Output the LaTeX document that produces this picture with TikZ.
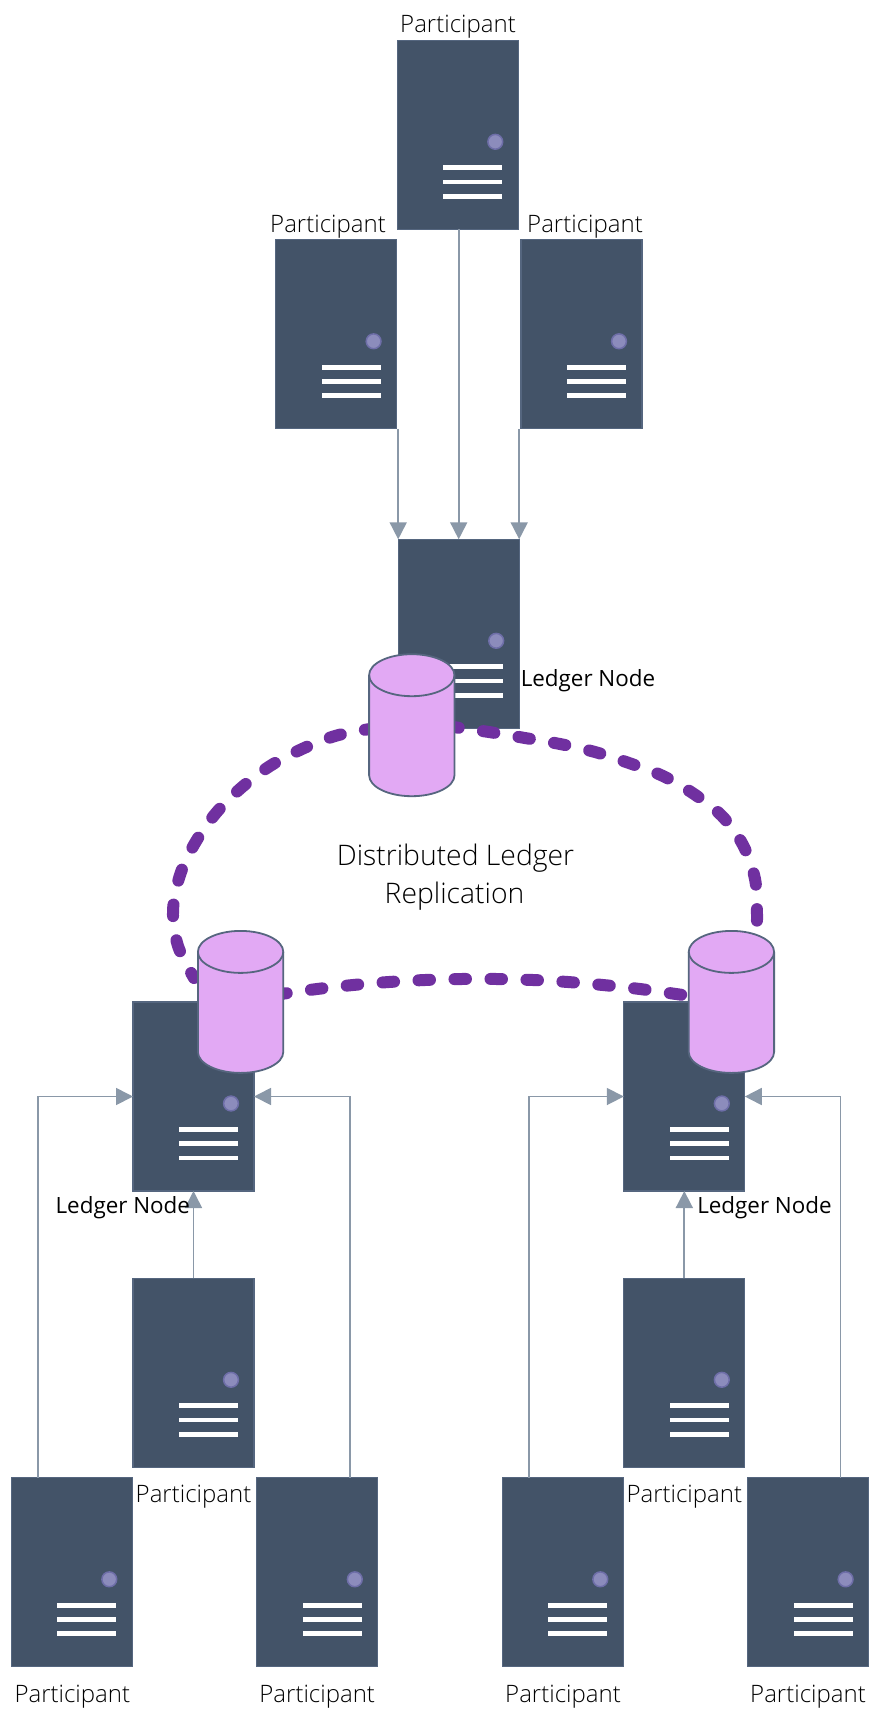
\documentclass[tikz,border=0pt]{standalone}
\usepackage{fontspec}
\setmainfont{Open Sans Light}
\newfontfamily\regfont{Open Sans}
\usetikzlibrary{arrows.meta}
\definecolor{srvfill}{HTML}{435368}
\definecolor{srvline}{HTML}{55667F}
\definecolor{dotfill}{HTML}{8C8CBC}
\definecolor{dotline}{HTML}{6E6EA8}
\definecolor{arrowc}{HTML}{8A98A8}
\definecolor{cylfill}{HTML}{E2A9F4}
\definecolor{cylline}{HTML}{56667F}
\definecolor{purp}{HTML}{7030A0}
\tikzset{
  server/.style={rectangle,draw=srvline,fill=srvfill,line width=1.2pt,minimum width=121pt,minimum height=189pt,inner sep=0pt,outer sep=0pt,anchor=north west},
  flow/.style={draw=arrowc,line width=1.7pt,-{Triangle[length=17pt,width=17pt]}},
  repl/.style={draw=purp,line width=12pt,line cap=round,dash pattern=on 11.5pt off 24.5pt,dash phase=5.75pt},
  ledger/.style={draw=cylline,fill=cylfill,line width=1.8pt},
  lbl/.style={anchor=base,font=\fontsize{24}{24}\selectfont,text=black,inner sep=0pt},
  ldg/.style={anchor=base,font=\regfont\fontsize{22.4}{24}\selectfont,text=black,inner sep=0pt},
  big/.style={anchor=base,font=\fontsize{28.3}{30}\selectfont,text=black,inner sep=0pt}
}
\newcommand{\srv}[3]{%
  \node[server] (#1) at (#2,#3) {};
  \fill[dotfill,draw=dotline,line width=1.5pt] ([shift={(98,101.5)}]#1.north west) circle (7.4pt);
  \foreach \yy in {125,139.3,153.6}{\fill[white] ([shift={(46,\yy)}]#1.north west) rectangle +(59,4.7);}
}
\newcommand{\cyl}[3]{%
  \coordinate (#1) at (#2,#3);
  \draw[ledger] ([shift={(0,-50)}]#1) ++(-42.7,0) arc[start angle=180,end angle=0,x radius=42.7pt,y radius=21pt]
     -- ++(0,100) arc[start angle=0,end angle=-180,x radius=42.7pt,y radius=21pt] -- cycle;
  \draw[ledger,fill=none] ([shift={(0,-50)}]#1) ++(-42.7,0) arc[start angle=180,end angle=360,x radius=42.7pt,y radius=21pt];
}
\begin{document}
\begin{tikzpicture}[x=1pt,y=-1pt]
\useasboundingbox[fill=white] (0,0) rectangle (880,1723);
% servers
\srv{pt}{397.3}{40.3}
\srv{pl}{275.6}{239.8}
\srv{pr}{521}{239.8}
\srv{lt}{398.2}{539.3}
\srv{ll}{133}{1002}
\srv{lr}{623.8}{1002}
\srv{ma}{133}{1278.3}
\srv{mb}{623.8}{1278.3}
\srv{ba}{11.3}{1477.8}
\srv{bb}{256.8}{1477.8}
\srv{bc}{502.3}{1477.8}
\srv{bd}{747.6}{1477.8}
% connectors
\draw[flow] (lt.north |- pt.south) -- (lt.north);
\draw[flow] (lt.north west |- pl.south east) -- (lt.north west);
\draw[flow] (lt.north east |- pr.south west) -- (lt.north east);
\draw[flow] ([xshift=27pt]ba.north west) |- (ll.west);
\draw[flow] ([xshift=93pt]bb.north west) |- (ll.east);
\draw[flow] (ma.north) -- (ll.south);
\draw[flow] ([xshift=27pt]bc.north west) |- (lr.west);
\draw[flow] ([xshift=93pt]bd.north west) |- (lr.east);
\draw[flow] (mb.north) -- (lr.south);
% replication loop
\draw[repl] plot[smooth,tension=.55] coordinates {(194,978)(178,946)(173,911)(180,875)(195,843)(216,813)(241,788)(270,766)(302,749)(335,736)(370,729)(400,726)};
\draw[repl] plot[smooth,tension=.55] coordinates {(453,727)(489,732)(525,738)(560,744)(595,752)(629,763)(663,776)(694,794)(722,816)(743,845)(755,879)(757,915)(756,945)};
\draw[repl] plot[smooth,tension=.55] coordinates {(281,994)(317,989)(353,985)(389,982)(425,980)(461,979)(497,979)(533,980)(568,982)(603,985)(640,989)(676,994)(690,996)};
% ledgers
\cyl{ca}{411.8}{725.2}
\cyl{cb}{240.6}{1001.9}
\cyl{cc}{731.4}{1001.9}
% labels
\node[lbl] (t1) at (458,33) {Participant};
\node[lbl] (t2) at (328,232.7) {Participant};
\node[lbl] (t3) at (585,232.7) {Participant};
\node[lbl] (t4) at (193.5,1502) {Participant};
\node[lbl] (t5) at (72.3,1702) {Participant};
\node[lbl] (t6) at (317.2,1702) {Participant};
\node[lbl] (t7) at (684.3,1502) {Participant};
\node[lbl] (t8) at (563,1702) {Participant};
\node[lbl] (t9) at (808,1702) {Participant};
\node[ldg] (l1) at (588,686) {Ledger Node};
\node[ldg] (l2) at (122.8,1213.7) {Ledger Node};
\node[ldg] (l3) at (764.5,1213.7) {Ledger Node};
\node[big] (d1) at (455.5,865) {Distributed Ledger};
\node[big] (d2) at (454.5,903) {Replication};
\end{tikzpicture}
\end{document}
